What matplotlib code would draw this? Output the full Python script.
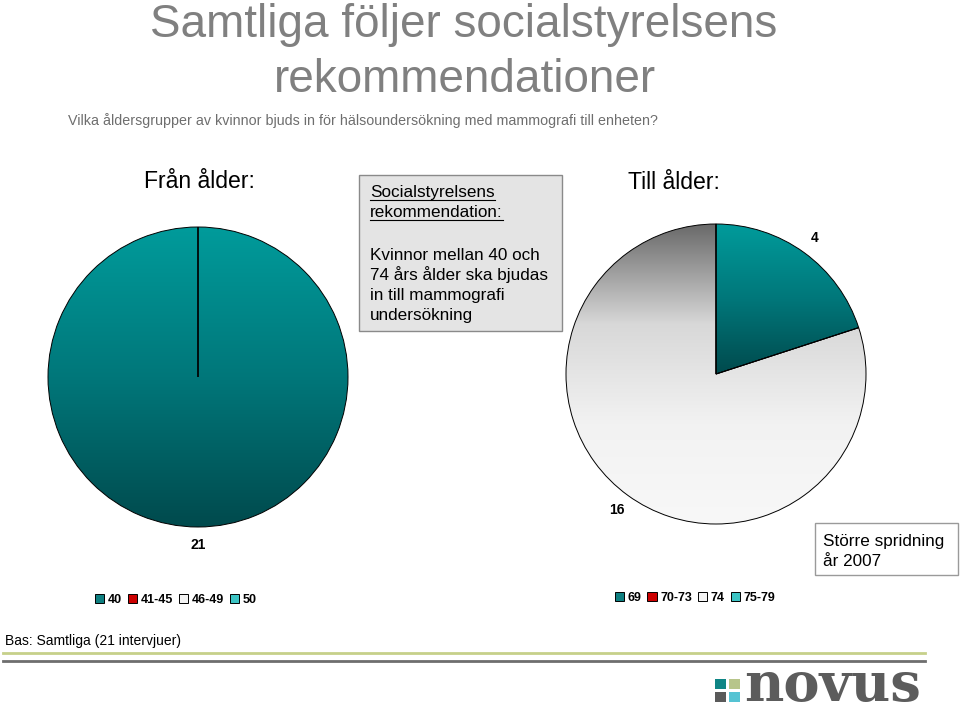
import matplotlib
matplotlib.use('Agg')
import matplotlib.pyplot as plt
from matplotlib.colors import LinearSegmentedColormap
from matplotlib.patches import Rectangle
from matplotlib.lines import Line2D
import numpy as np

# ---------------- data ----------------
from_categories = ['40', '41-45', '46-49', '50']
from_values = [21, 0, 0, 0]
to_categories = ['69', '70-73', '74', '75-79']
to_values = [4, 0, 16, 0]

title_lines = ['Samtliga följer socialstyrelsens', 'rekommendationer']
subtitle = 'Vilka åldersgrupper av kvinnor bjuds in för hälsoundersökning med mammografi till enheten?'
from_title = 'Från ålder:'
to_title = 'Till ålder:'
box_header = ['Socialstyrelsens', 'rekommendation:']
box_body = ['Kvinnor mellan 40 och', '74 års ålder ska bjudas', 'in till mammografi', 'undersökning']
note_lines = ['Större spridning', 'år 2007']
base_text = 'Bas: Samtliga (21 intervjuer)'
logo_text = 'novus'

# ---------------- style ----------------
plt.rcParams['font.family'] = ['Liberation Sans', 'DejaVu Sans']
legend_colors = ['#0e7f80', '#cc0000', '#f4f4f4', '#3cc4c4']
gradients = {
    '#0e7f80': ['#009b9b', '#00777a', '#004a4d'],
    '#f4f4f4': ['#6a6a6a', '#d8d8d8', '#f2f2f2', '#f8f8f8'],
    '#cc0000': ['#dd0000', '#990000'],
    '#3cc4c4': ['#55dddd', '#33aaaa'],
}

W, H = 960, 713
fig = plt.figure(figsize=(W / 100, H / 100), dpi=100)


def fx(x):
    return x / W


def fy(y):
    return 1 - y / H


def draw_pie(cx, cy, r, values, cats, legend_center):
    ax = fig.add_axes([fx(cx - r), fy(cy + r), 2 * r / W, 2 * r / H])
    wedges, texts = ax.pie(
        values,
        labels=[str(v) if v else '' for v in values],
        colors=legend_colors,
        startangle=90,
        counterclock=False,
        labeldistance=1.12,
        wedgeprops=dict(edgecolor='black', linewidth=0.7),
        textprops=dict(fontsize=10, fontweight='bold', color='black'),
    )
    for t in texts:
        t.set_horizontalalignment('center')
    fig.legend(wedges, cats, loc='center', bbox_to_anchor=legend_center,
               ncol=4, frameon=False, handlelength=0.75, handleheight=0.75,
               handletextpad=0.3, columnspacing=0.45,
               prop=dict(weight='bold', size=9))
    for w, v, c in zip(wedges, values, legend_colors):
        if v == 0:
            w.set_facecolor('none')
            w.set_zorder(3)
            continue
        bb = w.get_path().get_extents(w.get_patch_transform())
        cmap = LinearSegmentedColormap.from_list('g', gradients[c])
        arr = np.linspace(0, 1, 256).reshape(-1, 1)
        im = ax.imshow(arr, cmap=cmap, extent=[bb.x0, bb.x1, bb.y0, bb.y1],
                       aspect='auto', origin='upper', zorder=1,
                       interpolation='bilinear')
        im.set_clip_path(w)
        w.set_facecolor('none')
        w.set_zorder(3)
    ax.set_xlim(-1.0, 1.0)
    ax.set_ylim(-1.0, 1.0)
    ax.set_aspect('equal')
    ax.axis('off')
    return ax


draw_pie(198, 377, 150, from_values, from_categories, (fx(176), fy(600)))
draw_pie(716, 374, 150, to_values, to_categories, (fx(695), fy(598)))

# ---------------- titles ----------------
fig.text(fx(464), fy(37), title_lines[0], ha='center', va='baseline',
         fontsize=33, color='#808080')
fig.text(fx(465), fy(92), title_lines[1], ha='center', va='baseline',
         fontsize=33, color='#808080')
fig.text(fx(68), fy(125), subtitle, ha='left', va='baseline',
         fontsize=10.3, color='#6e6e6e')
fig.text(fx(199), fy(188), from_title, ha='center', va='baseline', fontsize=16.6)
fig.text(fx(674), fy(189), to_title, ha='center', va='baseline', fontsize=16.6)

# ---------------- recommendation box ----------------
fig.patches.append(Rectangle((fx(359), fy(331)), (562 - 359) / W, (331 - 175) / H,
                             transform=fig.transFigure, facecolor='#e4e4e4',
                             edgecolor='#8a8a8a', linewidth=1.0))
header_texts = []
for i, line in enumerate(box_header):
    header_texts.append(fig.text(fx(370), fy(197 + 20 * i), line, ha='left',
                                 va='baseline', fontsize=12.3))
for i, line in enumerate(box_body):
    fig.text(fx(370), fy(260 + 20 * i), line, ha='left', va='baseline', fontsize=12.3)

renderer = fig.canvas.get_renderer()
for i, t in enumerate(header_texts):
    bb = t.get_window_extent(renderer)
    yb = fy(197 + 20 * i + 2.5)
    fig.lines.append(Line2D([bb.x0 / W, bb.x1 / W], [yb, yb],
                            transform=fig.transFigure, color='black', lw=0.8))

# ---------------- note box ----------------
fig.patches.append(Rectangle((fx(815), fy(575)), (958 - 815) / W, (575 - 523) / H,
                             transform=fig.transFigure, facecolor='white',
                             edgecolor='#9a9a9a', linewidth=1.0))
for i, line in enumerate(note_lines):
    fig.text(fx(823), fy(546 + 20 * i), line, ha='left', va='baseline', fontsize=12.3)

# ---------------- footer ----------------
fig.text(fx(5), fy(645), base_text, ha='left', va='baseline', fontsize=10)
fig.lines.append(Line2D([fx(3), fx(925)], [fy(653), fy(653)],
                        transform=fig.transFigure, color='#c6d08a', lw=2.0))
fig.lines.append(Line2D([fx(3), fx(925)], [fy(661), fy(661)],
                        transform=fig.transFigure, color='#6e6e6e', lw=2.0))

# logo squares
for (x, y, c) in [(715, 679, '#0f8585'), (729, 679, '#b7c58a'),
                  (715, 692, '#5a5a5a'), (729, 692, '#55c3d3')]:
    fig.patches.append(Rectangle((fx(x), fy(y + 10)), 11 / W, 10 / H,
                                 transform=fig.transFigure, facecolor=c,
                                 edgecolor='none'))
fig.text(fx(744), fy(712), logo_text, ha='left', va='bottom', fontsize=39,
         family='DejaVu Serif', fontweight='bold', color='#5c5c5c')

fig.savefig('out.png', dpi=100)
